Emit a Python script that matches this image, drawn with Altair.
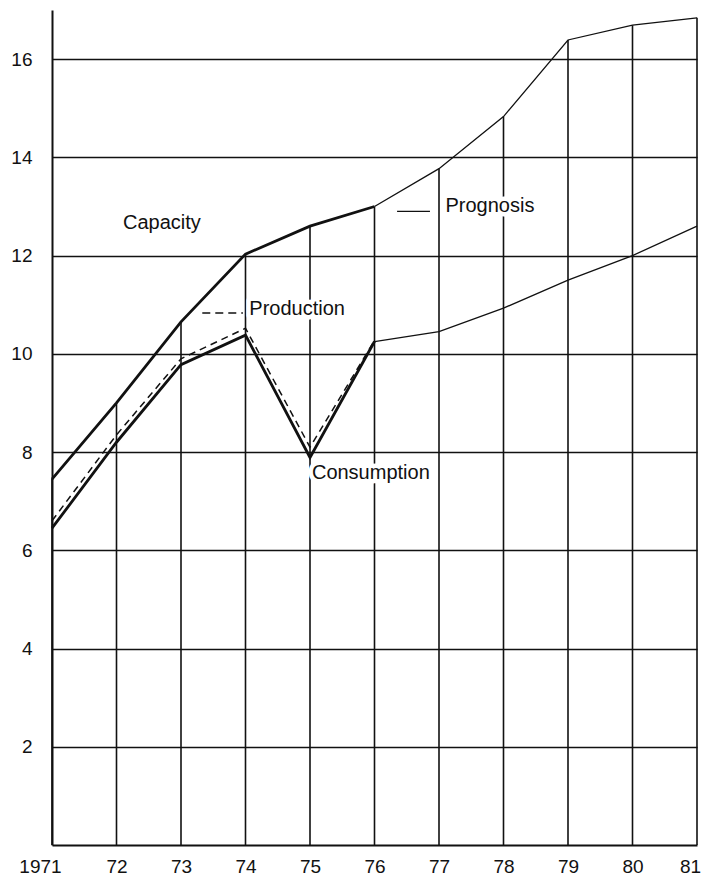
import altair as alt
import pandas as pd

years = [1971, 1972, 1973, 1974, 1975, 1976, 1977, 1978, 1979, 1980, 1981]
capacity = [7.45, 9.0, 10.65, 12.03, 12.6, 13.0, 13.77, 14.83, 16.39, 16.69, 16.84]
consumption = [6.45, 8.2, 9.78, 10.38, 7.89, 10.25, 10.45, 10.93, 11.5, 12.0, 12.6]
prod_years = [1971, 1972, 1973, 1974, 1975, 1976]
production = [6.6, 8.35, 9.9, 10.52, 8.1, 10.27]

y_ticks = [2, 4, 6, 8, 10, 12, 14, 16]

label_text = ["Capacity", "Production", "Prognosis", "Consumption"]
label_x = [1972.1, 1974.06, 1977.1, 1975.03]
label_y = [12.54, 10.8, 12.88, 7.45]

key_name = ["Production", "Prognosis"]
key_x1 = [1973.33, 1976.35]
key_x2 = [1973.96, 1976.86]
key_y = [10.83, 12.9]
key_dash = ["dashed", "solid"]

FONT = "Liberation Sans"
INK = "#111111"

df = pd.DataFrame({"year": years, "capacity": capacity, "consumption": consumption})
df["zero"] = 0
hist = df[df.year <= 1976]
prog = df[df.year >= 1976]
dprod = pd.DataFrame({"year": prod_years, "production": production})
dlab = pd.DataFrame({"text": label_text, "x": label_x, "y": label_y})
dkey = pd.DataFrame({"name": key_name, "x1": key_x1, "x2": key_x2, "y": key_y, "dash": key_dash})

xs = alt.Scale(domain=[1971, 1981], nice=False, zero=False)
ys = alt.Scale(domain=[0, 17], nice=False)

xaxis = alt.Axis(
    values=years, grid=False, ticks=False, title=None,
    labelExpr="datum.value == 1971 ? '1971' : substring(toString(datum.value), 2, 4)",
    labelFont=FONT, labelFontSize=19, labelColor=INK, labelPadding=27,
    labelBaseline="alphabetic",
    labelOffset={"condition": [{"test": "datum.value == 1971", "value": -12},
                               {"test": "datum.value == 1981", "value": -7}],
                 "value": 0},
    domainColor=INK, domainWidth=2, labelFlush=False,
)
yaxis = alt.Axis(
    values=y_ticks, grid=True, gridColor=INK, gridWidth=1.6, gridOpacity=1,
    ticks=False, title=None, labelFont=FONT, labelFontSize=19, labelColor=INK,
    labelPadding=20, domainColor=INK, domainWidth=2,
)

base = alt.Chart(df)

grid_axes = base.mark_rule(opacity=0).encode(
    x=alt.X("year:Q", scale=xs, axis=xaxis),
    y=alt.Y("capacity:Q", scale=ys, axis=yaxis),
)

drops = base.mark_rule(color=INK, strokeWidth=1.6).encode(
    x=alt.X("year:Q", scale=xs),
    y=alt.Y("zero:Q", scale=ys),
    y2="capacity:Q",
)

cap_hist = alt.Chart(hist).mark_line(color=INK, strokeWidth=2.8, strokeJoin="miter").encode(
    x=alt.X("year:Q", scale=xs), y=alt.Y("capacity:Q", scale=ys))
cap_prog = alt.Chart(prog).mark_line(color=INK, strokeWidth=1.3).encode(
    x=alt.X("year:Q", scale=xs), y=alt.Y("capacity:Q", scale=ys))
con_hist = alt.Chart(hist).mark_line(color=INK, strokeWidth=2.8, strokeJoin="miter").encode(
    x=alt.X("year:Q", scale=xs), y=alt.Y("consumption:Q", scale=ys))
con_prog = alt.Chart(prog).mark_line(color=INK, strokeWidth=1.3).encode(
    x=alt.X("year:Q", scale=xs), y=alt.Y("consumption:Q", scale=ys))
prod_line = alt.Chart(dprod).mark_line(color=INK, strokeWidth=1.5, strokeDash=[7, 5]).encode(
    x=alt.X("year:Q", scale=xs), y=alt.Y("production:Q", scale=ys))

halo = alt.Chart(dlab).mark_text(
    align="left", baseline="alphabetic", font=FONT, fontSize=20,
    color="white", stroke="white", strokeWidth=9, strokeJoin="round"
).encode(x=alt.X("x:Q", scale=xs), y=alt.Y("y:Q", scale=ys), text="text:N")
labels = alt.Chart(dlab).mark_text(
    align="left", baseline="alphabetic", font=FONT, fontSize=20, color=INK
).encode(x=alt.X("x:Q", scale=xs), y=alt.Y("y:Q", scale=ys), text="text:N")

key_dashed = alt.Chart(dkey[dkey.dash == "dashed"]).mark_rule(
    color=INK, strokeWidth=1.6, strokeDash=[8, 5]
).encode(x=alt.X("x1:Q", scale=xs), x2="x2:Q", y=alt.Y("y:Q", scale=ys))
key_solid = alt.Chart(dkey[dkey.dash == "solid"]).mark_rule(
    color=INK, strokeWidth=1.4
).encode(x=alt.X("x1:Q", scale=xs), x2="x2:Q", y=alt.Y("y:Q", scale=ys))

chart = alt.layer(
    grid_axes, drops, cap_hist, cap_prog, con_hist, con_prog, prod_line,
    key_dashed, key_solid, halo, labels
).properties(
    width=645, height=835,
    autosize=alt.AutoSizeParams(type="none"),
    padding={"left": 44, "top": 2, "right": 6, "bottom": 31},
    background="white",
).configure_view(stroke=None)

chart.save("out.html", embed_options={"renderer": "svg", "actions": False})
